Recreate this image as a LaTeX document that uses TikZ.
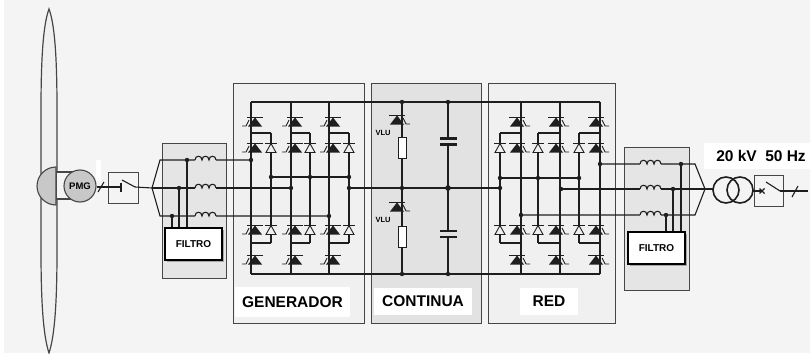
\documentclass[tikz,border=0pt]{standalone}
\usepackage{fontspec}
\setmainfont{Liberation Sans}
\definecolor{bgc}{RGB}{244,244,244}
\definecolor{boxc}{RGB}{240,240,240}
\definecolor{dcc}{RGB}{226,226,226}
\definecolor{filtc}{RGB}{229,229,229}
\definecolor{wirec}{RGB}{30,30,30}
\definecolor{edgec}{RGB}{70,70,70}
\definecolor{bladec}{RGB}{240,240,240}
\definecolor{hubc}{RGB}{200,200,200}
\begin{document}
\begin{tikzpicture}[x=1pt,y=-1pt,
  wire/.style={draw=wirec,line width=1.1pt},
  panel/.style={draw=edgec,line width=1pt},
  dot/.style={fill=wirec},
  lab/.style={font=\fontsize{15.5}{18}\selectfont\bfseries,text=black,inner sep=0pt},
  small/.style={font=\fontsize{10}{12}\selectfont\bfseries,text=black,inner sep=0pt},
  filterbox/.style={draw=black,line width=1.4pt,fill=white},
  swg/.pic={
    \fill[wirec] (-7,4.5) -- (7,4.5) -- (0,-4.5) -- cycle;
    \draw[wirec,line width=1.1pt] (-8,-4.5) -- (8,-4.5);
    \draw[wirec,line width=0.9pt] (-13,4) -- (-9,4) -- (-6,-2);
  },
  swr/.pic={
    \fill[wirec] (-7,4.5) -- (7,4.5) -- (0,-4.5) -- cycle;
    \draw[wirec,line width=1.1pt] (-8,-4.5) -- (8,-4.5);
    \draw[wirec,line width=0.9pt] (13,4) -- (9,4) -- (6,-2);
  },
  dio/.pic={
    \filldraw[fill=boxc,draw=wirec,line width=0.9pt] (-5,4.5) -- (5,4.5) -- (0,-4.5) -- cycle;
    \draw[wirec,line width=1.1pt] (-6,-4.5) -- (6,-4.5);
  },
  coil/.pic={
    \fill[filtc] (0,-1) rectangle (21,1);
    \draw[wirec,line width=1.1pt] (0,0) .. controls (0,-5) and (7,-5) .. (7,0)
      .. controls (7,-5) and (14,-5) .. (14,0)
      .. controls (14,-5) and (21,-5) .. (21,0);
  }]
\useasboundingbox (0,0) rectangle (810,353);
\fill[white] (0,0) rectangle (810,353);
\fill[bgc] (4,0) rectangle (810,353);

% ---- rotor blades, hub, nacelle and generator ----
\filldraw[fill=bladec,draw=edgec,line width=1.2pt]
  (49,9) .. controls (43,25) and (41,60) .. (41,110) -- (41,178) -- (57,178) -- (57,110)
  .. controls (57,60) and (55,25) .. (49,9) -- cycle;
\filldraw[fill=bladec,draw=edgec,line width=1.2pt]
  (41,195) -- (41,250) .. controls (41,300) and (43,335) .. (49,353)
  .. controls (55,335) and (57,300) .. (57,250) -- (57,195) -- cycle;
\filldraw[fill=bgc,draw=edgec,line width=1.1pt] (56,172) rectangle (80,199);
\filldraw[fill=hubc,draw=edgec,line width=1.1pt]
  (56,167) arc[start angle=-90,end angle=-270,radius=19] -- cycle;
\node[circle,draw=edgec,line width=1.1pt,fill=hubc,minimum size=32pt,inner sep=0pt,
  font=\fontsize{9.5}{11}\selectfont\bfseries] (pmg) at (80,186) {PMG};
\fill[white] (96,160) rectangle (101,181);

% ---- input breaker ----
\node[panel,fill=bgc,minimum width=30pt,minimum height=31pt,inner sep=0pt] (brk1) at (123,187.5) {};
\coordinate (brkbar) at (121,187);
\draw[wire] (pmg.east |- 0,187) -- (brkbar);
\draw[wire] (121,182.5) -- (121,191.5);
\draw[wire] (98,192) -- (104,182);
\draw[wire] (122,180) -- (135,187);
\coordinate (apexL) at (152,188);
\draw[wire] (135,187) -- (apexL);

% ---- panels ----
\filldraw[fill=filtc,draw=edgec,line width=0.9pt] (162,143) rectangle (226,278);
\filldraw[fill=filtc,draw=edgec,line width=0.9pt] (624,147) rectangle (689,290);
\filldraw[fill=boxc,panel] (233,83) rectangle (364,323);
\filldraw[fill=dcc,panel] (371,83) rectangle (481,323);
\filldraw[fill=boxc,panel] (488,83) rectangle (615,323);

% ---- three-phase lines, generator side ----
\draw[wire] (apexL) -- (160,160) -- (251,160);
\draw[wire] (apexL) -- (291,188);
\draw[wire] (apexL) -- (160,216) -- (329,216);
\foreach \yy in {160,188,216} { \pic at (195,\yy) {coil}; }
\foreach \xx/\yy in {187/160,179/188,172/216} {
  \draw[wire] (\xx,\yy) -- (\xx,228);
  \fill[dot] (\xx,\yy) circle (2.2);
}
\fill[gray!70] (167,230) rectangle (224,262);
\node[filterbox,minimum width=57pt,minimum height=32pt,inner sep=0pt,small] (filt1) at (193.5,244) {FILTRO};

% ---- DC rails ----
\draw[wire] (251,102) -- (600,102);
\draw[wire] (251,274) -- (600,274);
\draw[wire] (349,188) -- (500,188);

% ---- generator-side NPC bridge ----
\foreach \l/\d in {251/271,291/310,329/349} {
  \draw[wire] (\l,102) -- (\l,274);
  \draw[wire] (\d,133) -- (\d,243);
  \draw[wire] (\l,133) -- (\d,133);
  \draw[wire] (\l,243) -- (\d,243);
}
\draw[wire] (271,177) -- (349,177);
\foreach \l in {251,291,329} { \foreach \yy in {122,148,230,260} { \pic at (\l+4,\yy) {swg}; } }
\foreach \d in {271,310,349} { \foreach \yy in {148,230} { \pic at (\d,\yy) {dio}; } }
\foreach \xx/\yy in {271/177,310/177,349/177,349/188,251/160,291/188,329/216} { \fill[dot] (\xx,\yy) circle (2.2); }

% ---- DC link ----
\draw[wire] (402,102) -- (402,274);
\draw[wire] (448,102) -- (448,274);
\fill[dcc] (440,139.5) rectangle (457,143.5);
\fill[dcc] (440,232) rectangle (457,236);
\draw[wirec,line width=2.2pt] (440,138.5) -- (457,138.5) (440,144.5) -- (457,144.5);
\draw[wirec,line width=2.2pt] (440,231) -- (457,231) (440,237) -- (457,237);
\filldraw[fill=white,draw=wirec,line width=0.9pt] (398,137) rectangle (406,158);
\filldraw[fill=white,draw=wirec,line width=0.9pt] (398,226) rectangle (406,247);
\pic at (397,120) {swr};
\pic at (397,207) {swr};
\node[font=\fontsize{7.5}{9}\selectfont\bfseries,inner sep=0pt] (vlu1) at (383,133) {VLU};
\node[font=\fontsize{7.5}{9}\selectfont\bfseries,inner sep=0pt] (vlu2) at (383,220) {VLU};
\foreach \xx/\yy in {402/102,448/102,402/188,402/274,448/274} { \fill[dot] (\xx,\yy) circle (2.2); }
\fill[dot] (448,188) circle (2.8);

% ---- grid-side NPC bridge ----
\foreach \l/\d in {521/500,560/538,600/579} {
  \draw[wire] (\l,102) -- (\l,274);
  \draw[wire] (\d,133) -- (\d,243);
  \draw[wire] (\d,133) -- (\l,133);
  \draw[wire] (\d,243) -- (\l,243);
}
\draw[wire] (500,178) -- (579,178);
\foreach \l in {521,560,600} { \foreach \yy in {122,148,230,260} { \pic at (\l-4,\yy) {swr}; } }
\foreach \d in {500,538,579} { \foreach \yy in {148,230} { \pic at (\d,\yy) {dio}; } }

% ---- three-phase lines, grid side ----
\coordinate (apexR) at (705,189);
\draw[wire] (600,164) -- (695,164) -- (apexR);
\draw[wire] (561,189) -- (apexR);
\draw[wire] (521,215) -- (695,215) -- (apexR);
\foreach \xx/\yy in {500/178,538/178,579/178,500/188,600/164,561/189,521/215} { \fill[dot] (\xx,\yy) circle (2.2); }
\foreach \yy in {164,189,215} { \pic at (640,\yy) {coil}; }
\foreach \xx/\yy in {681/164,673/189,666/215} {
  \draw[wire] (\xx,\yy) -- (\xx,232);
  \fill[dot] (\xx,\yy) circle (2.2);
}
\fill[gray!70] (630,234) rectangle (687,266);
\node[filterbox,minimum width=57pt,minimum height=32pt,inner sep=0pt,small] (filt2) at (656.5,248) {FILTRO};

% ---- transformer and grid breaker ----
\draw[wire] (apexR) -- (713,189);
\draw[wirec,line width=1.6pt] (726,190) circle (13);
\draw[wirec,line width=1.6pt] (740,190) circle (13);
\node[panel,fill=bgc,minimum width=29pt,minimum height=31pt,inner sep=0pt] (brk2) at (768.5,190.5) {};
\draw[wire] (753,191) -- (762,191);
\draw[wirec,line width=1.1pt] (759.5,188.5) -- (764.5,193.5) (759.5,193.5) -- (764.5,188.5);
\draw[wire] (766,182) -- (780,191);
\draw[wire] (780,191) -- (808,191);
\draw[wire] (792,197) -- (798,186);

% ---- labels ----
\fill[white] (704,143) rectangle (810,169);
\node[lab] (volt) at (761,156) {20 kV\hspace{0.55em}50 Hz};
\node[lab,fill=white,minimum width=115pt,minimum height=30pt] (gen) at (292.5,302) {GENERADOR};
\node[lab,fill=white,minimum width=98pt,minimum height=27pt] (dc) at (423,301.5) {CONTINUA};
\node[lab,fill=white,minimum width=58pt,minimum height=27pt] (grid) at (549,301.5) {RED};
\end{tikzpicture}
\end{document}
